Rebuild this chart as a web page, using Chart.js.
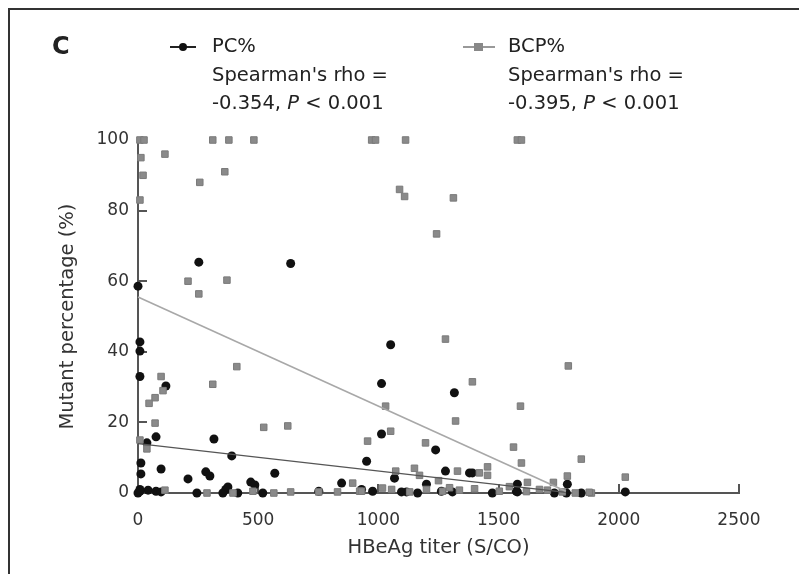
<!DOCTYPE html>
<html>
<head>
<meta charset="utf-8">
<script src="https://cdn.jsdelivr.net/npm/chart.js@4.4.1/dist/chart.umd.min.js"></script>
<style>
body{margin:0;background:#fff;}
#wrap{position:relative;width:799px;height:574px;overflow:hidden;font-family:"DejaVu Sans",sans-serif;color:#222;}
#frame{position:absolute;left:8px;top:8px;width:800px;height:580px;border-top:2px solid #333;border-left:2px solid #333;box-sizing:border-box;}
canvas{position:absolute;left:0;top:0;}
.t{position:absolute;font-size:19.5px;line-height:28.5px;white-space:nowrap;}
.ln{position:absolute;height:2px;}
.mk{position:absolute;}
</style>
</head>
<body>
<div id="wrap">
  <div id="frame"></div>
  <canvas id="c" width="799" height="574"></canvas>
  <div class="t" style="left:52px;top:32px;font-size:24px;font-weight:bold;">C</div>
  <div class="ln" style="left:170px;top:46px;width:26px;background:#222;"></div>
  <div class="mk" style="left:179px;top:43px;width:8px;height:8px;border-radius:50%;background:#111;"></div>
  <div class="t" style="left:212px;top:32px;">PC%<br>Spearman's rho =<br>-0.354, <i>P</i> &lt; 0.001</div>
  <div class="ln" style="left:463px;top:46px;width:32px;background:#999;"></div>
  <div class="mk" style="left:474px;top:43px;width:9px;height:8px;background:#888;"></div>
  <div class="t" style="left:508px;top:32px;">BCP%<br>Spearman's rho =<br>-0.395, <i>P</i> &lt; 0.001</div>
</div>
<script>
// HBeAg titer (S/CO) vs mutant percentage (%)
const pcTiter = [253,635,0,8,8,8,116,75,316,37,390,12,96,12,208,282,299,469,486,8,42,75,96,245,365,353,415,
  569,951,847,752,519,930,1051,1013,1316,1013,1238,1279,1379,1391,1067,1200,1578,1786,976,1117,1163,1262,
  1474,1574,1732,1782,1096,1308,1844,2027,1578,0,8,374];
const pcPercent = [65.4,65,58.6,42.8,40.2,33,30.3,15.9,15.3,14.2,10.5,8.5,6.8,5.4,4,6,4.8,3.1,2.3,1,0.8,0.5,0.3,0,1,0,0,
  5.6,9,2.8,0.5,0,1,42,31,28.4,16.7,12.2,6.2,5.7,5.7,4.2,2.5,2.5,2.5,0.5,0.3,0,0.5,
  0,0.5,0,0,0.3,0.3,0,0.3,0.3,0,0.5,1.7];

const bcpTiter = [8,25,311,378,482,972,988,1113,1578,1595,
  12,112,21,257,361,8,208,370,253,1088,1109,1312,1242,
  1279,1790,1391,1030,1591,1321,1051,955,1196,1562,1595,1844,1072,1150,1171,1329,1420,1454,1454,
  1620,1728,1786,1250,2027,1703,1819,1886,523,623,893,1017,
  411,311,96,104,71,46,71,8,37,112,287,395,478,565,635,752,830,922,
  930,1055,1130,1200,1267,1296,1337,1400,1503,1545,1616,1670,1765,1877];
const bcpPercent = [100,100,100,100,100,100,100,100,100,100,
  95,96,90,88,91,83,60,60.3,56.4,86,84,83.6,73.4,
  43.6,36,31.5,24.6,24.6,20.4,17.5,14.7,14.2,13,8.5,9.6,6.2,7,5,6.2,5.7,7.4,5,
  3,3,4.8,3.5,4.5,0.8,0,0,18.6,19,2.8,1.4,
  35.8,30.8,33,29,27,25.4,19.8,15,12.5,0.8,0,0,0.5,0,0.3,0.3,0.3,0.5,
  0.5,1,0.3,1,0.5,1.5,0.8,1.2,0.5,1.8,0.4,1,0.3,0.2];

// fitted trend lines
const pcFitX = [0, 1780];
const pcFitY = [14, 0.2];
const bcpFitX = [0, 1780];
const bcpFitY = [55.5, 0.5];

const xTicks = [0, 500, 1000, 1500, 2000, 2500];
const yTicks = [0, 20, 40, 60, 80, 100];

const FONT = '"DejaVu Sans", sans-serif';
const toXY = (xs, ys) => xs.map((x, i) => ({x, y: ys[i]}));

// small inward tick marks, as in the original figure
const innerTicks = {
  id: 'innerTicks',
  beforeDatasetsDraw(chart) {
    const {ctx, scales: {x, y}} = chart;
    ctx.save();
    ctx.strokeStyle = '#555';
    ctx.lineWidth = 2;
    ctx.beginPath();
    for (const v of yTicks.slice(1, -1)) {
      const py = Math.round(y.getPixelForValue(v));
      ctx.moveTo(x.left, py);
      ctx.lineTo(x.left + 9, py);
    }
    for (const v of xTicks.slice(1)) {
      const px = Math.round(x.getPixelForValue(v));
      ctx.moveTo(px, y.bottom);
      ctx.lineTo(px, y.bottom - 9);
    }
    ctx.stroke();
    ctx.restore();
  }
};

new Chart(document.getElementById('c'), {
  type: 'scatter',
  data: {
    datasets: [
      {label: 'BCP% fit', data: toXY(bcpFitX, bcpFitY), showLine: true, borderColor: '#a8a8a8', borderWidth: 1.6, pointRadius: 0, clip: false},
      {label: 'PC% fit', data: toXY(pcFitX, pcFitY), showLine: true, borderColor: '#555', borderWidth: 1.3, pointRadius: 0, clip: false},
      {label: 'BCP%', data: toXY(bcpTiter, bcpPercent), pointStyle: 'rect', pointRadius: 4.6, backgroundColor: '#8a8a8a', borderColor: '#7a7a7a', borderWidth: 1, clip: false},
      {label: 'PC%', data: toXY(pcTiter, pcPercent), pointStyle: 'circle', pointRadius: 4.5, backgroundColor: '#111', borderColor: '#111', borderWidth: 0, clip: false}
    ]
  },
  options: {
    responsive: false,
    animation: false,
    devicePixelRatio: 1,
    layout: {padding: {left: 0, top: 140, right: 60, bottom: 0}},
    plugins: {legend: {display: false}, tooltip: {enabled: false}},
    scales: {
      x: {
        type: 'linear', min: 0, max: 2500,
        afterFit: s => { s.height = 81; },
        afterBuildTicks: s => { s.ticks = xTicks.map(v => ({value: v})); },
        grid: {display: false, drawTicks: false},
        border: {display: true, color: '#555', width: 2},
        ticks: {color: '#333', font: {size: 17, family: FONT}, padding: 17, maxRotation: 0, callback: v => String(v)},
        title: {display: true, text: 'HBeAg titer (S/CO)', color: '#333', font: {size: 19.5, family: FONT}, padding: {top: 0, bottom: 14}}
      },
      y: {
        type: 'linear', min: 0, max: 100,
        afterFit: s => { s.width = 138; },
        afterBuildTicks: s => { s.ticks = yTicks.map(v => ({value: v})); },
        grid: {display: false, drawTicks: false},
        border: {display: true, color: '#555', width: 2},
        ticks: {color: '#333', font: {size: 17, family: FONT}, padding: 9, callback: v => String(v)},
        title: {display: true, text: 'Mutant percentage (%)', color: '#333', font: {size: 19.5, family: FONT}, padding: {top: 56, bottom: 0}}
      }
    }
  },
  plugins: [innerTicks]
});
</script>
</body>
</html>
